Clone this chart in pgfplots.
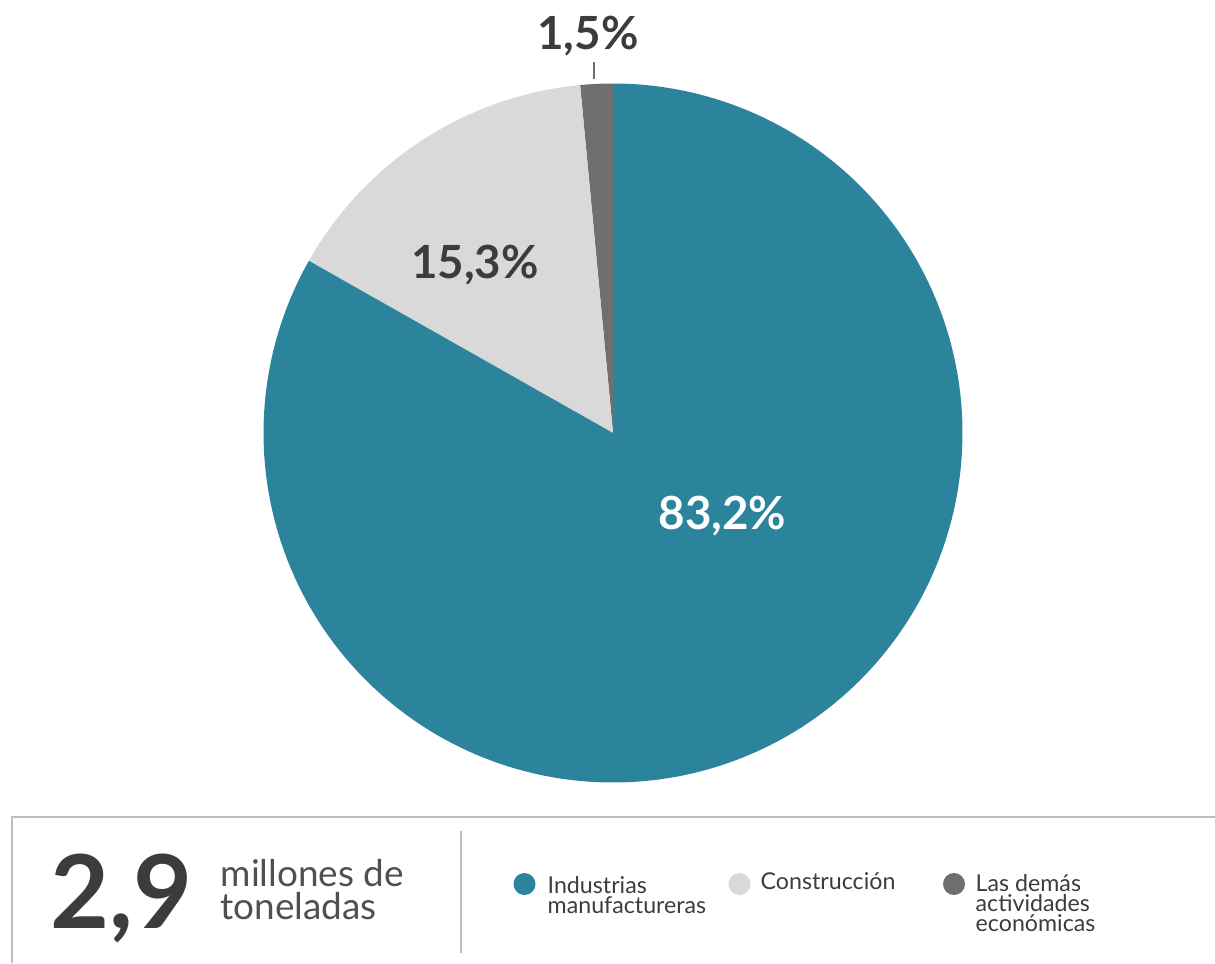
\documentclass[border=0pt]{standalone}
\usepackage{pgfplots}
\pgfplotsset{compat=1.18}
\usepackage{pgfplotstable}
\usepackage{fontspec}
\setmainfont{Lato}
\definecolor{cTeal}{RGB}{43,131,156}
\definecolor{cLight}{RGB}{217,217,217}
\definecolor{cDark}{RGB}{111,111,111}
\definecolor{cText}{RGB}{60,60,60}
\definecolor{cBody}{RGB}{80,80,80}
\definecolor{cRule}{RGB}{190,190,190}
\pgfplotstableread{
sector value
Industrias 83.2
Construccion 15.3
Demas 1.5
}\piedata
\begin{document}
\begin{tikzpicture}
\pgfplotstablegetelem{0}{value}\of\piedata \let\vA\pgfplotsretval
\pgfplotstablegetelem{1}{value}\of\piedata \let\vB\pgfplotsretval
\pgfplotstablegetelem{2}{value}\of\piedata \let\vC\pgfplotsretval
\pgfmathsetmacro{\aC}{90+3.6*\vC}
\pgfmathsetmacro{\aB}{\aC+3.6*\vB}
\pgfmathsetmacro{\aA}{\aB+3.6*\vA}
\path[use as bounding box] (0,0) rectangle (12.15,-9.63);
\begin{axis}[
  at={(6.13cm,-4.33cm)}, anchor=center,
  scale only axis, width=6.99cm, height=6.99cm,
  xmin=-1, xmax=1, ymin=-1, ymax=1,
  hide axis, clip=false]
\addplot[draw=none, fill=cDark, domain=90:\aC, samples=20, variable=\t] ({cos(\t)},{sin(\t)}) -- (axis cs:0,0) -- cycle;
\addplot[draw=none, fill=cLight, domain=\aC:\aB, samples=80, variable=\t] ({cos(\t)},{sin(\t)}) -- (axis cs:0,0) -- cycle;
\addplot[draw=none, fill=cTeal, domain=\aB:\aA, samples=300, variable=\t] ({cos(\t)},{sin(\t)}) -- (axis cs:0,0) -- cycle;
\end{axis}
% labels
\node[anchor=base, text=white, font=\fontsize{13}{15}\selectfont\bfseries, inner sep=0pt] at (7.225,-5.29) {83,2\%};
\node[anchor=base, text=cText, font=\fontsize{13}{15}\selectfont\bfseries, inner sep=0pt] at (4.75,-2.78) {15,3\%};
\node[anchor=base, text=cText, font=\fontsize{13}{15}\selectfont\bfseries, inner sep=0pt] at (5.88,-0.49) {1,5\%};
\draw[cDark, line width=0.4pt] (5.94,-0.62) -- (5.94,-0.79);
% box
\draw[cRule, line width=0.6pt] (0.12,-9.63) -- (0.12,-8.17) -- (12.15,-8.17);
\draw[cRule, line width=0.45pt] (4.61,-8.31) -- (4.61,-9.53);
\node[anchor=base west, text=cText, font=\fontsize{29}{30}\selectfont\bfseries, inner sep=0pt] at (0.50,-9.28) {2,9};
\node[anchor=base west, text=cBody, font=\fontsize{10.5}{12}\selectfont, inner sep=0pt] at (2.20,-8.86) {millones de};
\node[anchor=base west, text=cBody, font=\fontsize{10.5}{12}\selectfont, inner sep=0pt] at (2.20,-9.19) {toneladas};
% legend
\fill[cTeal] (5.245,-8.84) circle (0.11);
\fill[cLight] (7.395,-8.84) circle (0.11);
\fill[cDark] (9.54,-8.84) circle (0.11);
\begin{scope}[every node/.style={anchor=base west, text=cText, font=\fontsize{6.6}{7}\selectfont, inner sep=0pt}]
\node at (5.47,-8.93) {Industrias};
\node at (5.47,-9.13) {manufactureras};
\node at (7.60,-8.89) {Construcción};
\node at (9.75,-8.91) {Las demás};
\node at (9.75,-9.11) {actividades};
\node at (9.75,-9.31) {económicas};
\end{scope}
\end{tikzpicture}
\end{document}
